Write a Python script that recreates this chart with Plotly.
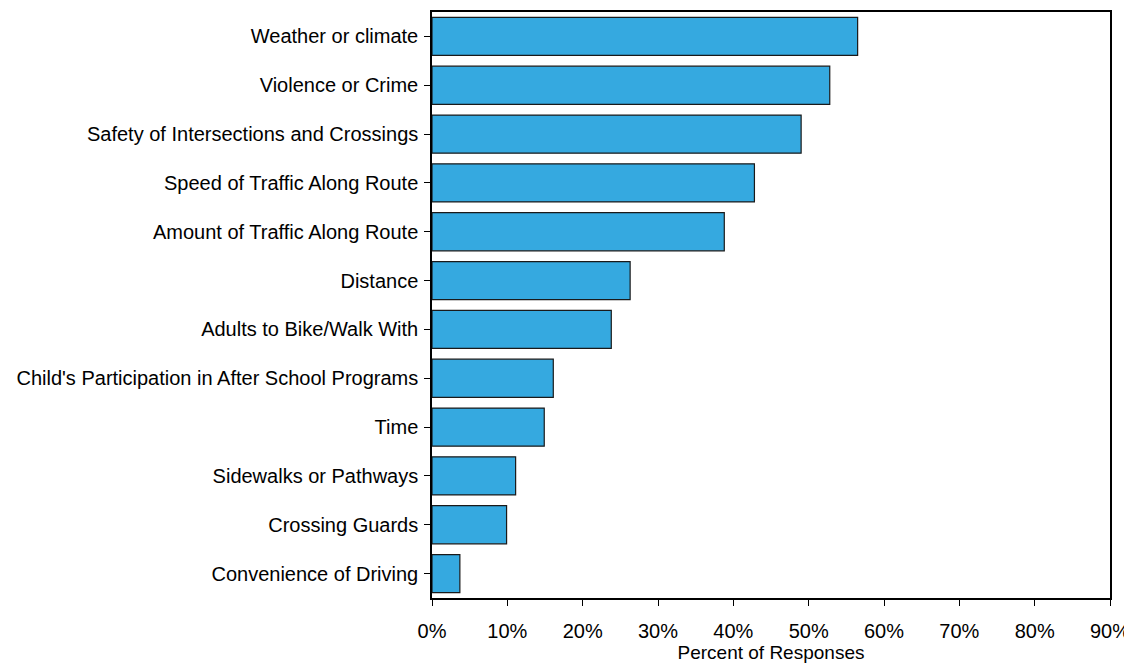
# horizontal barplot of reasons/barriers, percent of responses on x-axis

import plotly.graph_objects as go

# Data (top of chart first)
categories = [
    "Weather or climate",
    "Violence or Crime",
    "Safety of Intersections and Crossings",
    "Speed of Traffic Along Route",
    "Amount of Traffic Along Route",
    "Distance",
    "Adults to Bike/Walk With",
    "Child's Participation in After School Programs",
    "Time",
    "Sidewalks or Pathways",
    "Crossing Guards",
    "Convenience of Driving",
]
percent = [56.5, 52.8, 49.0, 42.8, 38.8, 26.3, 23.8, 16.1, 14.9, 11.1, 9.9, 3.7]
x_ticks = [0, 10, 20, 30, 40, 50, 60, 70, 80, 90]

fig = go.Figure(
    data=[
        go.Bar(
            y=categories,
            x=percent,
            orientation="h",
            marker=dict(color="#35A9E0", line=dict(color="#1a1a1a", width=1.2)),
            width=0.78,
        )
    ]
)

# page body has an 8px margin, so shrink the figure to keep the plot where it is
fig.update_layout(
    plot_bgcolor="white",
    paper_bgcolor="white",
    font=dict(family="Liberation Sans, Arial, sans-serif", size=20, color="black"),
    autosize=False,
    width=1124,
    height=659,
    margin=dict(l=424, r=21, t=2, b=69),
    showlegend=False,
)

fig.update_yaxes(
    autorange=False,
    range=[len(categories) - 0.5, -0.5],
    showline=True,
    linecolor="black",
    linewidth=1.5,
    mirror=True,
    ticks="outside",
    ticklen=6,
    tickcolor="black",
    showgrid=False,
    ticklabelstandoff=2,
)

fig.update_xaxes(
    title=dict(text="Percent of Responses", standoff=4, font=dict(size=19)),
    range=[0, 90],
    tickvals=x_ticks,
    ticktext=[f"{v}%" for v in x_ticks],
    showline=True,
    linecolor="black",
    linewidth=1.5,
    mirror=True,
    ticks="outside",
    ticklen=6,
    tickcolor="black",
    ticklabelstandoff=8,
    showgrid=False,
    zeroline=False,
)

fig.write_html("out.html")
